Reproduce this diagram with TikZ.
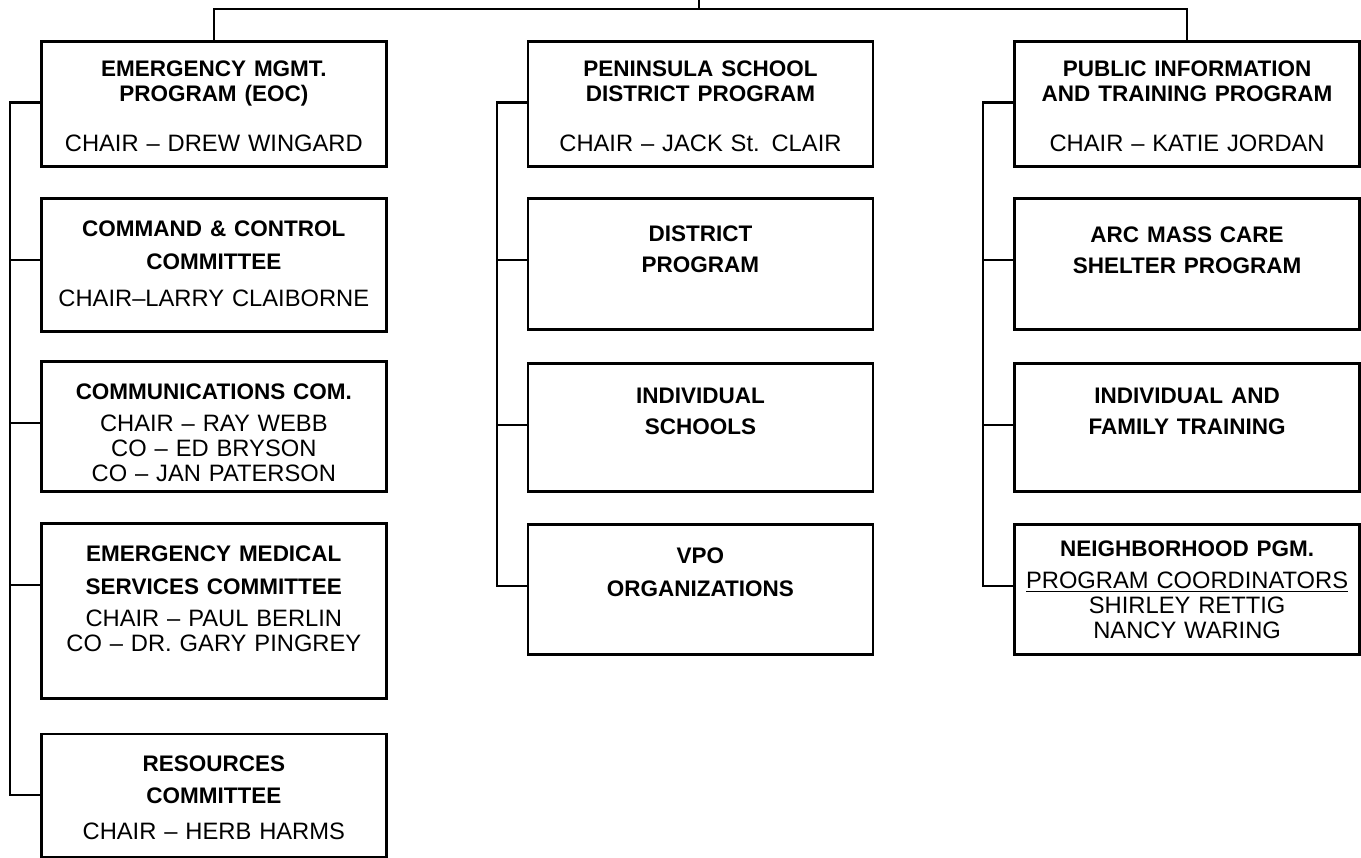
\documentclass[tikz,border=0pt]{standalone}
\usepackage{fontspec}
\setmainfont{Liberation Sans}
\usepackage{tikz}
\usetikzlibrary{positioning}

\newcommand{\hdfont}{\fontsize{12.8}{14.2}\selectfont\bfseries}
\newcommand{\nmfont}{\fontsize{13.5}{14.2}\selectfont\mdseries}

\begin{document}
\begin{tikzpicture}[
    unit/.style={draw, line width=1.5pt, inner xsep=0pt, inner ysep=0pt,
                 text width=6.9cm, align=center, text height=0.76cm, font=\nmfont},
    toprow/.style={unit, text height=0.7cm, text depth=1.8cm},
    link/.style={line width=1.2pt},
]
\useasboundingbox (0,0) rectangle (27.22,-17.14);

% --- Emergency management column ---
\node[toprow, anchor=north west] (emg) at (0.8,-0.8)
    {\hdfont EMERGENCY MGMT.\\PROGRAM (EOC)\\[14.2pt]\nmfont CHAIR -- DREW WINGARD};
\node[unit, text depth=1.9cm, below=0.59cm of emg] (cmd)
    {\hdfont COMMAND \& CONTROL\\[4.5pt]COMMITTEE\\[6.8pt]\nmfont CHAIR--LARRY CLAIBORNE};
\node[unit, text depth=1.84cm, below=0.55cm of cmd] (comm)
    {\hdfont COMMUNICATIONS COM.\\[4pt]\nmfont CHAIR -- RAY WEBB\\CO -- ED BRYSON\\CO -- JAN PATERSON};
\node[unit, text depth=2.74cm, below=0.59cm of comm] (ems)
    {\hdfont EMERGENCY MEDICAL\\[4.5pt]SERVICES COMMITTEE\\[4pt]\nmfont CHAIR -- PAUL BERLIN\\CO -- DR. GARY PINGREY};
\node[unit, text depth=1.7cm, below=0.65cm of ems] (res)
    {\hdfont RESOURCES\\[4pt]COMMITTEE\\[6pt]\nmfont CHAIR -- HERB HARMS};

% --- School district column ---
\node[toprow, right=2.78cm of emg] (psd)
    {\hdfont PENINSULA SCHOOL\\DISTRICT PROGRAM\\[14.2pt]\nmfont CHAIR -- JACK St. CLAIR};
\node[unit, text depth=1.76cm, text height=0.86cm, below=0.59cm of psd] (dist)
    {\hdfont DISTRICT\\[3.5pt]PROGRAM};
\node[unit, text depth=1.76cm, text height=0.8cm, below=0.63cm of dist] (schools)
    {\hdfont INDIVIDUAL\\[3.5pt]SCHOOLS};
\node[unit, text depth=1.82cm, text height=0.78cm, below=0.61cm of schools] (vpo)
    {\hdfont VPO\\[4.5pt]ORGANIZATIONS};

% --- Public information column ---
\node[toprow, right=2.78cm of psd] (pio)
    {\hdfont PUBLIC INFORMATION\\AND TRAINING PROGRAM\\[14.2pt]\nmfont CHAIR -- KATIE JORDAN};
\node[unit, text depth=1.74cm, text height=0.88cm, below=0.59cm of pio] (arc)
    {\hdfont ARC MASS CARE\\[3.5pt]SHELTER PROGRAM};
\node[unit, text depth=1.76cm, text height=0.8cm, below=0.63cm of arc] (family)
    {\hdfont INDIVIDUAL AND\\[3.5pt]FAMILY TRAINING};
\node[unit, text depth=1.96cm, text height=0.64cm, below=0.61cm of family] (hood)
    {\hdfont NEIGHBORHOOD PGM.\\[4pt]\nmfont\underline{PROGRAM COORDINATORS}\\SHIRLEY RETTIG\\NANCY WARING};

% --- Top bar ---
\coordinate (parent) at (13.98,0);
\draw[link] (emg.north) -- ++(0,0.62) -| (pio.north);
\draw[link] (parent) -- ++(0,-0.2);

% --- Spines ---
\draw[link] ([yshift=-1.25cm]emg.north west) -- ++(-0.6,0) |- ([yshift=-1.25cm]res.north west);
\foreach \n in {cmd,comm,ems}
    \draw[link] ([yshift=-1.25cm]\n.north west) -- ++(-0.6,0);

\draw[link] ([yshift=-1.25cm]psd.north west) -- ++(-0.6,0) |- ([yshift=-1.25cm]vpo.north west);
\foreach \n in {dist,schools}
    \draw[link] ([yshift=-1.25cm]\n.north west) -- ++(-0.6,0);

\draw[link] ([yshift=-1.25cm]pio.north west) -- ++(-0.6,0) |- ([yshift=-1.25cm]hood.north west);
\foreach \n in {arc,family}
    \draw[link] ([yshift=-1.25cm]\n.north west) -- ++(-0.6,0);

\end{tikzpicture}
\end{document}
